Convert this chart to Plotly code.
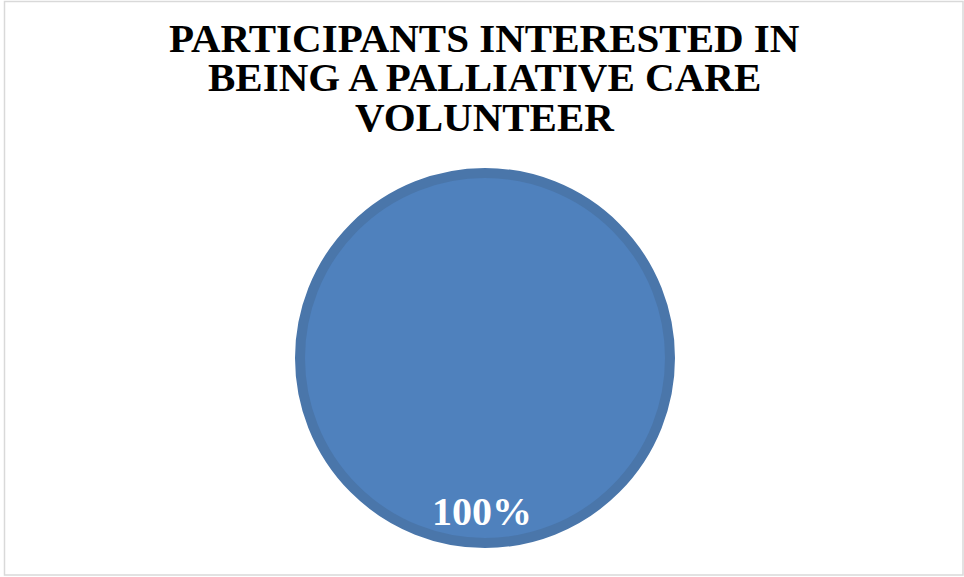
import plotly.graph_objects as go

title_lines = ["PARTICIPANTS INTERESTED IN", "BEING A PALLIATIVE CARE", "VOLUNTEER"]
labels = ["Interested"]
values = [100]
pct_labels = ["100%"]

W, H = 964, 577
fig = go.Figure()

cx, cy, r = 485, 358, 185
fig.add_trace(go.Pie(
    labels=labels, values=values, sort=False,
    textinfo="none", hoverinfo="label+percent",
    marker=dict(colors=["#4F81BD"], line=dict(color="#4A76AA", width=10)),
    domain=dict(x=[(cx - r) / W, (cx + r) / W], y=[1 - (cy + r) / H, 1 - (cy - r) / H]),
    showlegend=False,
))

for i, line in enumerate(title_lines):
    fig.add_annotation(
        text=f"<b>{line}</b>", x=484 / W, y=1 - (38 + 39.5 * i) / H,
        xref="paper", yref="paper", showarrow=False, xanchor="center", yanchor="middle",
        font=dict(family="Liberation Serif, Times New Roman, serif", size=41, color="#000000"),
    )

fig.add_annotation(
    text=f"<b>{pct_labels[0]}</b>", x=482 / W, y=1 - 511 / H,
    xref="paper", yref="paper", showarrow=False, xanchor="center", yanchor="middle",
    font=dict(family="Liberation Serif, Times New Roman, serif", size=40, color="#FFFFFF"),
)

fig.add_shape(type="rect", xref="paper", yref="paper",
              x0=4.5 / W, x1=963 / W, y0=1 - 575 / H, y1=1 - 1.5 / H,
              line=dict(color="#D9D9D9", width=1.5))

fig.update_layout(
    width=W, height=H, margin=dict(l=0, r=0, t=0, b=0),
    paper_bgcolor="#FFFFFF", plot_bgcolor="#FFFFFF",
)
fig.write_html("out.html", config={"displayModeBar": False},
               post_script="document.body.style.margin='0';document.body.style.overflow='hidden';")
